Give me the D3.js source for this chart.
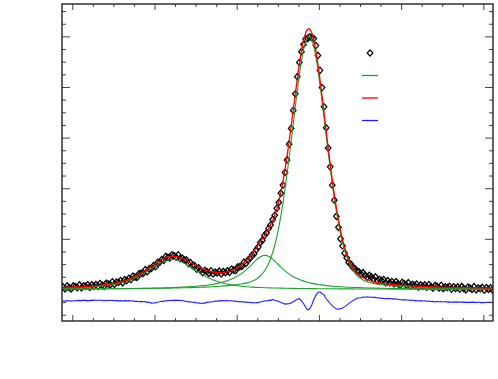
<!DOCTYPE html>
<html>
<head>
<meta charset="utf-8">
<script src="https://cdn.jsdelivr.net/npm/d3@7"></script>
<style>
  body { margin: 0; background: #fff; }
</style>
</head>
<body>
<script>
// spectrum sampling: first channel and step (x units)
var xStart = -9, xStep = 2;

// measured intensities, one per channel
var observed = [
  2.5, 0.6, 3.4, 1.7, 0.6, 3.4, 2.8, 1.7, 4.4, 1.6,
  3.5, 3.0, 4.5, 2.0, 4.6, 3.2, 4.8, 3.0, 5.8, 4.1,
  3.1, 6.1, 5.5, 4.6, 7.5, 4.9, 7.2, 6.9, 8.7, 6.6,
  9.6, 8.7, 10.9, 9.7, 13.1, 12.2, 11.9, 15.6, 15.8, 15.8,
  19.5, 17.5, 20.4, 20.8, 23.4, 22.5, 26.7, 26.8, 29.4, 28.7,
  32.6, 31.6, 31.2, 34.2, 33.4, 31.9, 34.1, 30.4, 31.0, 29.1,
  29.2, 25.5, 26.5, 23.5, 23.5, 20.0, 21.3, 18.5, 16.7, 18.8,
  17.5, 16.0, 18.3, 15.3, 17.0, 16.4, 18.0, 15.4, 17.7, 16.5,
  18.4, 16.9, 20.1, 19.0, 18.6, 22.2, 22.5, 22.7, 26.9, 25.7,
  29.0, 30.7, 33.9, 35.2, 39.2, 41.8, 46.3, 48.6, 53.2, 55.8,
  60.3, 63.6, 69.1, 73.2, 80.1, 85.9, 95.0, 103.1, 115.6, 127.9,
  143.5, 159.1, 176.9, 193.3, 210.2, 224.3, 234.9, 242.1, 247.3, 247.9,
  249.6, 248.7, 247.8, 240.9, 231.2, 216.4, 199.4, 180.4, 159.7, 139.7,
  121.1, 103.0, 88.2, 72.3, 61.4, 50.0, 43.0, 35.8, 31.3, 26.5,
  25.0, 21.7, 20.5, 18.3, 17.3, 15.2, 16.5, 13.9, 12.1, 13.9,
  12.3, 10.4, 12.3, 8.7, 9.9, 8.7, 9.7, 6.6, 8.6, 6.6,
  7.8, 5.5, 7.8, 5.6, 4.0, 6.9, 5.8, 4.3, 6.6, 3.3,
  4.9, 4.0, 5.2, 2.2, 4.4, 3.1, 4.4, 2.2, 4.8, 2.7,
  1.3, 3.9, 2.9, 1.5, 4.0, 0.9, 2.6, 1.8, 3.1, 0.3,
  2.6, 1.0, 2.4, 0.3, 2.9, 0.9, -0.4, 2.3, 1.4, 0.1,
  2.7, -0.4, 1.4, 0.7, 2.0, -0.7, 1.7, 0.1, 1.5, -0.5
];

// residual (observed - fit), drawn shifted below the baseline
var residual = [
  -11.3, -11.6, -11.1, -11.5, -11.2, -11.5, -11.0, -11.1, -10.8, -11.1,
  -10.6, -11.1, -10.8, -11.1, -10.6, -10.8, -10.5, -10.9, -10.5, -11.0,
  -10.8, -11.2, -10.8, -11.0, -10.8, -11.2, -10.8, -11.3, -11.1, -11.5,
  -11.1, -11.3, -11.1, -11.5, -11.2, -11.8, -11.7, -12.2, -11.8, -12.2,
  -12.1, -12.8, -12.7, -13.5, -13.4, -13.3, -12.4, -12.2, -11.7, -11.8,
  -11.0, -11.3, -10.7, -11.0, -10.6, -10.8, -10.6, -11.0, -10.8, -11.6,
  -11.7, -12.3, -12.2, -12.7, -12.8, -13.4, -13.3, -13.9, -13.4, -13.5,
  -12.8, -12.7, -12.2, -12.2, -11.4, -11.6, -11.1, -11.3, -10.9, -11.2,
  -11.0, -11.4, -11.0, -11.7, -11.6, -12.2, -11.9, -12.3, -12.2, -12.8,
  -12.5, -13.2, -13.0, -13.4, -13.0, -13.0, -12.2, -12.2, -11.3, -11.4,
  -10.8, -10.8, -9.9, -10.7, -11.1, -12.0, -12.9, -13.7, -14.5, -14.3,
  -14.1, -13.3, -12.1, -10.9, -9.8, -9.2, -11.4, -13.9, -17.4, -20.2,
  -19.4, -15.3, -10.0, -5.9, -3.0, -2.3, -4.0, -5.3, -9.2, -11.6,
  -13.9, -16.2, -17.7, -19.4, -19.5, -18.9, -18.3, -17.0, -15.8, -14.0,
  -12.5, -11.1, -10.0, -8.8, -8.5, -8.2, -7.5, -7.7, -7.2, -7.7,
  -7.5, -7.9, -7.9, -8.4, -8.2, -8.8, -8.7, -9.2, -8.9, -9.2,
  -9.1, -9.6, -9.3, -10.0, -9.9, -10.4, -10.1, -10.5, -10.4, -10.8,
  -10.5, -11.1, -11.0, -11.4, -11.1, -11.4, -11.3, -11.7, -11.4, -12.0,
  -11.8, -12.3, -11.9, -12.2, -12.0, -12.4, -12.0, -12.5, -12.3, -12.7,
  -12.3, -12.5, -12.3, -12.7, -12.3, -12.8, -12.6, -13.0, -12.6, -12.8,
  -12.6, -13.0, -12.5, -13.0, -12.8, -13.1, -12.7, -12.9, -12.6, -13.0
];

// x positions where the fitted curves were read
var fitX = [
  -10, 2.6, 17.2, 31.8, 44.5, 56.2, 65.9, 73.7, 80.5, 86.3,
  91.2, 95.1, 99.0, 102.9, 107.7, 113.6, 120.4, 128.2, 136.0, 143.7,
  151.5, 158.3, 164.2, 170.0, 174.9, 179.8, 183.6, 187.5, 191.4, 195.3,
  199.2, 203.1, 207.0, 210.9, 214.8, 218.7, 221.6, 224.5, 226.5, 228.4,
  230.4, 232.3, 234.3, 236.2, 239.1, 242.0, 245.9, 249.8, 253.7, 257.6,
  261.5, 265.4, 270.3, 276.1, 282.9, 291.7, 302.4, 316.0, 333.5, 357.9,
  382.2, 409.4
];

// fitted components (green)
var peakA = [
  1.25, 1.56, 2.17, 3.36, 5.52, 9.06, 13.74, 18.48, 22.92, 26.48,
  28.66, 29.55, 29.55, 28.66, 26.48, 22.92, 18.48, 13.74, 9.86, 7.01,
  5.03, 3.84, 3.13, 2.61, 2.30, 2.02, 1.84, 1.69, 1.56, 1.44,
  1.34, 1.25, 1.17, 1.10, 1.03, 0.97, 0.93, 0.89, 0.86, 0.84,
  0.82, 0.80, 0.78, 0.76, 0.73, 0.71, 0.68, 0.65, 0.62, 0.60,
  0.57, 0.55, 0.53, 0.49, 0.46, 0.42, 0.39, 0.34, 0.30, 0.25,
  0.21, 0.17
];
var peakB = [
  0.40, 0.44, 0.52, 0.62, 0.74, 0.87, 1.01, 1.15, 1.29, 1.44,
  1.58, 1.71, 1.86, 2.02, 2.25, 2.60, 3.10, 3.86, 4.94, 6.48,
  8.77, 11.76, 15.32, 20.13, 24.90, 29.64, 32.51, 33.60, 32.51, 29.64,
  25.89, 21.94, 18.38, 15.32, 12.85, 10.77, 9.52, 8.44, 7.81, 7.23,
  6.72, 6.25, 5.83, 5.44, 4.94, 4.50, 3.98, 3.55, 3.18, 2.87,
  2.60, 2.36, 2.10, 1.86, 1.61, 1.36, 1.13, 0.91, 0.71, 0.52,
  0.41, 0.31
];
var peakC = [
  0.43, 0.47, 0.54, 0.63, 0.73, 0.82, 0.91, 0.99, 1.09, 1.18,
  1.25, 1.30, 1.41, 1.50, 1.61, 1.77, 1.99, 2.30, 2.67, 3.15,
  3.76, 4.46, 5.30, 6.48, 8.00, 10.57, 13.83, 18.87, 26.38, 37.45,
  52.77, 73.32, 99.01, 128.95, 161.76, 194.47, 216.50, 234.29, 242.79, 248.22,
  250.00, 248.22, 242.79, 234.29, 216.50, 194.47, 161.76, 128.95, 99.01, 73.32,
  52.77, 37.45, 24.21, 14.92, 9.39, 6.25, 4.46, 3.22, 2.25, 1.50,
  1.06, 0.77
];

// cumulative fit (red)
var fitSum = [
  2.08, 2.47, 3.23, 4.61, 6.99, 10.75, 15.66, 20.62, 25.30, 29.10,
  31.49, 32.56, 32.82, 32.18, 30.34, 27.29, 23.57, 19.90, 17.47, 16.64,
  17.56, 20.06, 23.75, 29.22, 35.20, 42.23, 48.18, 54.16, 60.45, 68.53,
  80.00, 96.51, 118.56, 145.37, 175.64, 206.21, 226.95, 243.62, 251.46, 256.29,
  257.54, 255.27, 249.40, 240.49, 222.17, 199.68, 166.42, 133.15, 102.81, 76.79,
  55.94, 40.36, 26.84, 17.27, 11.46, 8.03, 5.98, 4.47, 3.26, 2.27,
  1.68, 1.25
];

// tick values (no labels are printed)
var xMajor = [0, 80, 160, 240, 320, 400];
var xMinor = d3.range(20, 400, 20).filter(v => v % 80 !== 0);
var yMajor = [0, 50, 100, 150, 200, 250];
var yMinor = d3.range(-25, 282, 12.5).filter(v => v % 50 !== 0);

var xs = observed.map((d, i) => xStart + i * xStep);

// set the dimensions and margins of the graph
var margin = {top: 4, right: 5, bottom: 58, left: 62},
    width = 498 - margin.left - margin.right,
    height = 379 - margin.top - margin.bottom;

var svgRoot = d3.select("body").append("svg")
    .attr("width", 498)
    .attr("height", 379);

var svg = svgRoot.append("g")
    .attr("transform", "translate(" + margin.left + "," + margin.top + ")");

var x = d3.scaleLinear().domain([-10, 409.4]).range([0, width]);
var y = d3.scaleLinear().domain([-31.2, 282]).range([height, 0]);

svg.append("clipPath").attr("id", "plot")
  .append("rect").attr("width", width).attr("height", height);

var plot = svg.append("g").attr("clip-path", "url(#plot)");

// data points as hollow diamonds
var diamond = "M0,-3.2L2.8,0L0,3.2L-2.8,0Z";
plot.selectAll("path.pt")
    .data(observed)
  .enter().append("path")
    .attr("class", "pt")
    .attr("d", diamond)
    .attr("transform", (d, i) => "translate(" + x(xs[i]) + "," + y(d) + ")")
    .attr("fill", "none")
    .attr("stroke", "#000")
    .attr("stroke-width", 1.25);

var fitLine = d3.line()
    .x((d, i) => x(fitX[i]))
    .y(d => y(d))
    .curve(d3.curveMonotoneX);

[peakA, peakB, peakC].forEach(function(p) {
  plot.append("path")
      .attr("d", fitLine(p))
      .attr("fill", "none")
      .attr("stroke", "#1f9f2f")
      .attr("stroke-width", 1.1);
});

plot.append("path")
    .attr("d", fitLine(fitSum))
    .attr("fill", "none")
    .attr("stroke", "#ff0000")
    .attr("stroke-width", 1.3);

var resLine = d3.line()
    .x((d, i) => x(xs[i]))
    .y(d => y(d));

plot.append("path")
    .attr("d", resLine(residual))
    .attr("fill", "none")
    .attr("stroke", "#2020ff")
    .attr("stroke-width", 1.1);

// inward ticks on all four sides
function ticks(g, axis, values, size) {
  g.call(axis.tickValues(values).tickSize(-size).tickFormat(""));
  g.select(".domain").remove();
  g.selectAll("line").attr("stroke", "#444");
}
var gb = svg.append("g").attr("transform", "translate(0," + height + ")");
ticks(gb.append("g"), d3.axisBottom(x), xMajor, 6);
ticks(gb.append("g"), d3.axisBottom(x), xMinor, 3);
var gt = svg.append("g");
ticks(gt.append("g"), d3.axisTop(x), xMajor, 6);
ticks(gt.append("g"), d3.axisTop(x), xMinor, 3);
var gl = svg.append("g");
ticks(gl.append("g"), d3.axisLeft(y), yMajor, 8);
ticks(gl.append("g"), d3.axisLeft(y), yMinor, 4);
var gr = svg.append("g").attr("transform", "translate(" + width + ",0)");
ticks(gr.append("g"), d3.axisRight(y), yMajor, 8);
ticks(gr.append("g"), d3.axisRight(y), yMinor, 4);

// frame
svg.append("rect")
    .attr("width", width)
    .attr("height", height)
    .attr("fill", "none")
    .attr("stroke", "#222")
    .attr("stroke-width", 1.4);

// legend symbols (the original has no legend text)
var legend = svgRoot.append("g").attr("transform", "translate(362,53)");
legend.append("path")
    .attr("d", diamond)
    .attr("transform", "translate(8,0)")
    .attr("fill", "none")
    .attr("stroke", "#000")
    .attr("stroke-width", 1.2);
[["#1f9f2f", 22.5], ["#ff0000", 45], ["#2020ff", 67.5]].forEach(function(e) {
  legend.append("line")
      .attr("x1", 0).attr("x2", 16)
      .attr("y1", e[1]).attr("y2", e[1])
      .attr("stroke", e[0])
      .attr("stroke-width", 1.3);
});
</script>
</body>
</html>
